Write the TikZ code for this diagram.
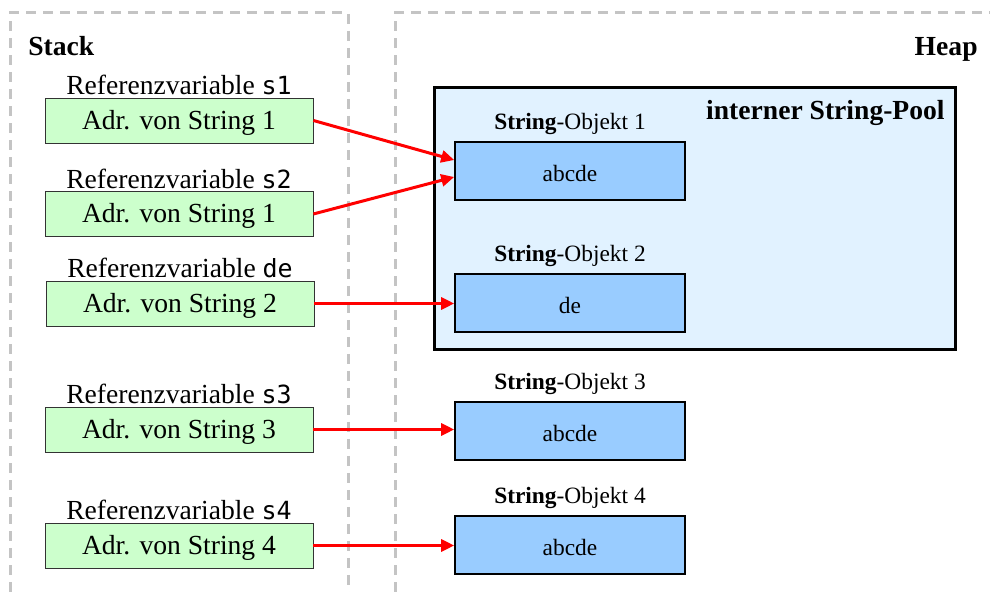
\documentclass[tikz,border=0pt]{standalone}
\usepackage{fontspec}
\setmainfont{Liberation Serif}
\setmonofont{DejaVu Sans Mono}
\usetikzlibrary{arrows.meta,positioning}
\definecolor{refgreen}{HTML}{CCFFCC}
\definecolor{objblue}{HTML}{99CCFF}
\definecolor{poolblue}{HTML}{E1F2FF}
\definecolor{areagray}{HTML}{C4C4C4}

\begin{document}
\begin{tikzpicture}[x=0.5pt,y=-0.5pt,>={Triangle[length=6.5pt,width=6pt]},
  refbox/.style={draw=black!80,fill=refgreen,minimum width=134pt,minimum height=22.5pt,
    inner sep=0pt,text height=11pt,text depth=2pt,font=\fontsize{13.8}{16}\selectfont},
  reflabel/.style={inner sep=0pt,font=\fontsize{13.8}{16}\selectfont},
  objbox/.style={draw,line width=0.8pt,fill=objblue,minimum width=115pt,minimum height=29pt,
    inner sep=0pt,text height=10.5pt,text depth=0pt,font=\fontsize{11.7}{14}\selectfont},
  objlabel/.style={inner sep=0pt,font=\fontsize{11.7}{14}\selectfont},
  area/.style={areagray,line width=1.5pt,dash pattern=on 5pt off 3.5pt},
  ptr/.style={->,red,line width=1.5pt}]
  \useasboundingbox (0,0) rectangle (990,592);

  % stack and heap areas
  \draw[area] (10,592) -- (10,13) -- (348,13) -- (348,592);
  \draw[area] (395,592) -- (395,13) -- (990,13);
  \node[anchor=base west,inner sep=0pt,font=\fontsize{13.8}{16}\selectfont\bfseries] (stack) at (28,56) {Stack};
  \node[anchor=base east,inner sep=0pt,font=\fontsize{13.8}{16}\selectfont\bfseries] (heap) at (978,56) {Heap};

  % string pool
  \node[draw,line width=1.5pt,fill=poolblue,minimum width=260.5pt,minimum height=131pt] (pool) at (694.5,219) {};
  \node[anchor=base east,inner sep=0pt,font=\fontsize{13.8}{16}\selectfont\bfseries] (poollabel) at (945,120) {interner String-Pool};

  % reference variables
  \node[refbox] (s1) at (179,120.5) {Adr. von String 1};
  \node[refbox] (s2) at (179,214) {Adr. von String 1};
  \node[refbox] (de) at (180,303.5) {Adr. von String 2};
  \node[refbox] (s3) at (179,429.5) {Adr. von String 3};
  \node[refbox] (s4) at (179,545.5) {Adr. von String 4};
  \node[reflabel,above=1pt of s1] (s1l) {Referenzvariable {\fontsize{12.5}{14}\ttfamily s1}};
  \node[reflabel,above=1pt of s2] (s2l) {Referenzvariable {\fontsize{12.5}{14}\ttfamily s2}};
  \node[reflabel,above=1pt of de] (del) {Referenzvariable {\fontsize{12.5}{14}\ttfamily de}};
  \node[reflabel,above=1pt of s3] (s3l) {Referenzvariable {\fontsize{12.5}{14}\ttfamily s3}};
  \node[reflabel,above=1pt of s4] (s4l) {Referenzvariable {\fontsize{12.5}{14}\ttfamily s4}};

  % string objects
  \node[objbox] (obj1) at (570,171) {abcde};
  \node[objbox] (obj2) at (570,303) {de};
  \node[objbox] (obj3) at (570,431) {abcde};
  \node[objbox] (obj4) at (570,545) {abcde};
  \node[objlabel,above=3pt of obj1] (obj1l) {\textbf{String}-Objekt 1};
  \node[objlabel,above=3pt of obj2] (obj2l) {\textbf{String}-Objekt 2};
  \node[objlabel,above=3pt of obj3] (obj3l) {\textbf{String}-Objekt 3};
  \node[objlabel,above=3pt of obj4] (obj4l) {\textbf{String}-Objekt 4};

  % references
  \draw[ptr] (s1.east) -- ([yshift=5.5pt]obj1.west);
  \draw[ptr] (s2.east) -- ([yshift=-3pt]obj1.west);
  \draw[ptr] (de.east) -- (de.east -| obj2.west);
  \draw[ptr] (s3.east) -- (s3.east -| obj3.west);
  \draw[ptr] (s4.east) -- (s4.east -| obj4.west);
\end{tikzpicture}
\end{document}
